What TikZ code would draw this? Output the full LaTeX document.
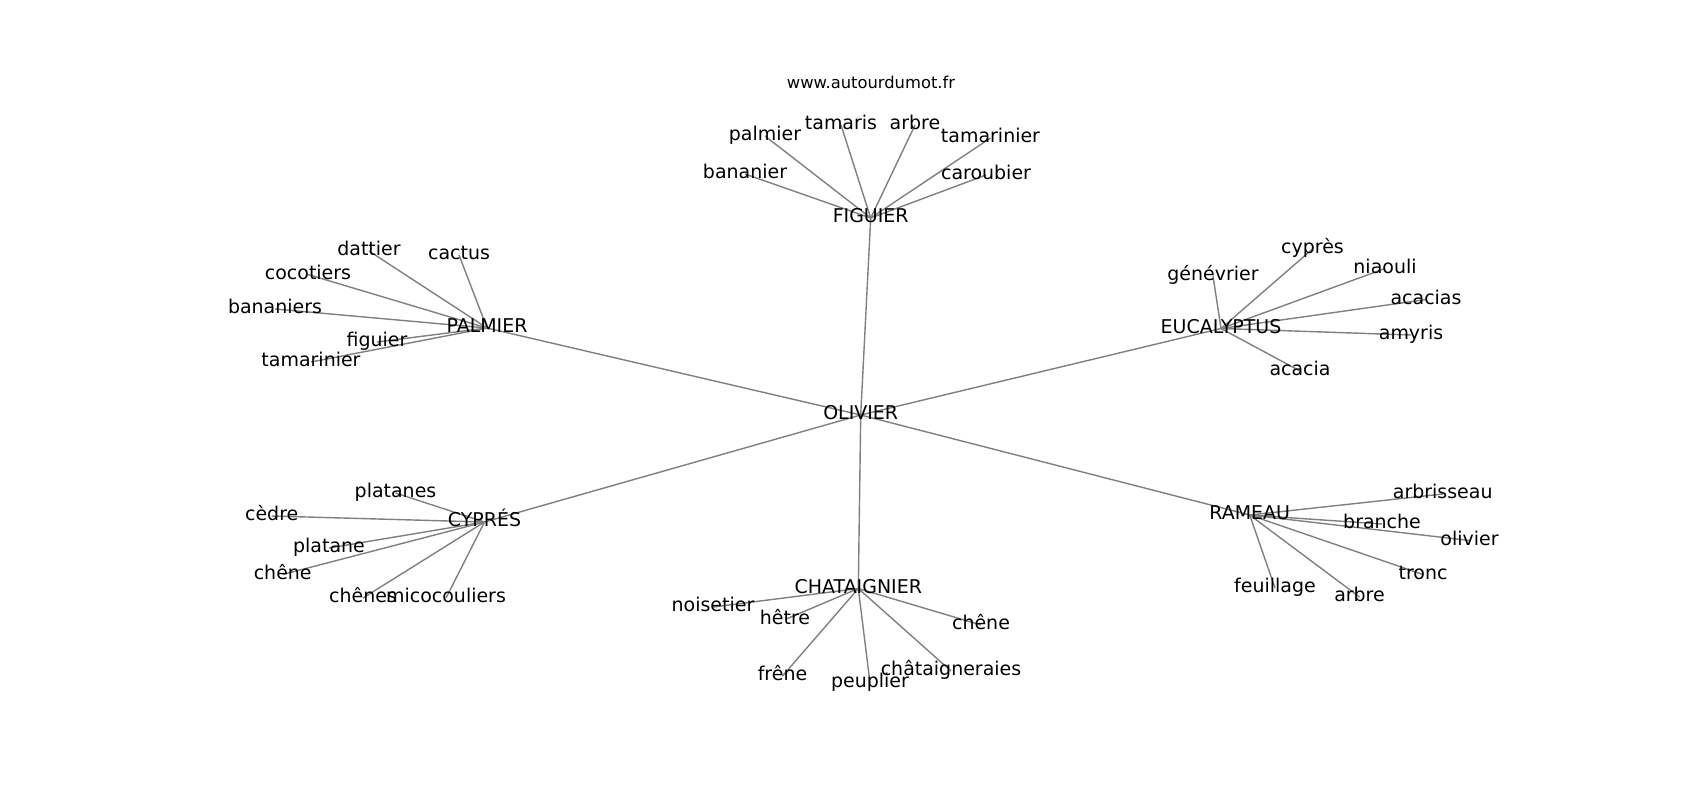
\documentclass[tikz,border=0pt]{standalone}
\usepackage{fontspec}
\setmainfont{DejaVu Sans}
\pgfdeclarelayer{background}
\pgfsetlayers{background,main}
\tikzset{
  word/.style={inner sep=0pt, text height=8.2pt, text depth=2.6pt, font=\fontsize{10.8}{13}\selectfont},
  link/.style={draw=gray, line width=0.8pt}
}

\begin{document}
\begin{tikzpicture}[x=0.2mm, y=-0.2mm]
    \useasboundingbox (0,0) rectangle (1700,800);

    % Title
    \node[inner sep=0pt, text height=7.1pt, text depth=2.2pt, font=\fontsize{9.3}{11}\selectfont] (site) at (871,84) {www.autourdumot.fr};

    % Centre and hubs
    \node[word] (olivier) at (860.7,415) {OLIVIER};
    \node[word] (figuier) at (870.7,218) {FIGUIER};
    \node[word] (palmier) at (487,328) {PALMIER};
    \node[word] (eucalyptus) at (1221,328.5) {EUCALYPTUS};
    \node[word] (cypres) at (484.5,522) {CYPRÉS};
    \node[word] (chataignier) at (858.3,588.5) {CHATAIGNIER};
    \node[word] (rameau) at (1249.7,515) {RAMEAU};

    % Around FIGUIER
    \node[word] (figA) at (745,174) {bananier};
    \node[word] (figB) at (765,136) {palmier};
    \node[word] (figC) at (841,125) {tamaris};
    \node[word] (figD) at (915,125) {arbre};
    \node[word] (figE) at (990.5,138) {tamarinier};
    \node[word] (figF) at (986,175) {caroubier};

    % Around PALMIER
    \node[word] (palA) at (369,251) {dattier};
    \node[word] (palB) at (459,255) {cactus};
    \node[word] (palC) at (308,274.5) {cocotiers};
    \node[word] (palD) at (275,309) {bananiers};
    \node[word] (palE) at (377,342) {figuier};
    \node[word] (palF) at (311,362) {tamarinier};

    % Around EUCALYPTUS
    \node[word] (eucA) at (1312.5,249) {cyprès};
    \node[word] (eucB) at (1213,276) {génévrier};
    \node[word] (eucC) at (1385,268.5) {niaouli};
    \node[word] (eucD) at (1426,299.5) {acacias};
    \node[word] (eucE) at (1411,335) {amyris};
    \node[word] (eucF) at (1300,371) {acacia};

    % Around CYPRES
    \node[word] (cypA) at (395.5,493) {platanes};
    \node[word] (cypB) at (271.7,516) {cèdre};
    \node[word] (cypC) at (329,548) {platane};
    \node[word] (cypD) at (282.7,574.5) {chêne};
    \node[word] (cypE) at (363,598) {chênes};
    \node[word] (cypF) at (446,598) {micocouliers};

    % Around CHATAIGNIER
    \node[word] (chaA) at (713,607) {noisetier};
    \node[word] (chaB) at (785,619.5) {hêtre};
    \node[word] (chaC) at (981,625) {chêne};
    \node[word] (chaD) at (782.5,676) {frêne};
    \node[word] (chaE) at (870,683) {peuplier};
    \node[word] (chaF) at (951,671) {châtaigneraies};

    % Around RAMEAU
    \node[word] (ramA) at (1442.7,494) {arbrisseau};
    \node[word] (ramB) at (1382,524) {branche};
    \node[word] (ramC) at (1469.5,540.5) {olivier};
    \node[word] (ramD) at (1423,574.5) {tronc};
    \node[word] (ramE) at (1275,588) {feuillage};
    \node[word] (ramF) at (1359.5,597) {arbre};

    % Links, behind the words
    \begin{pgfonlayer}{background}
        \foreach \hub in {figuier, palmier, eucalyptus, cypres, chataignier, rameau}
            \draw[link] (olivier.center) -- (\hub.center);
        \foreach \hub/\pre in {figuier/fig, palmier/pal, eucalyptus/euc, cypres/cyp, chataignier/cha, rameau/ram}
            \foreach \leaf in {A,B,C,D,E,F}
                \draw[link] (\hub.center) -- (\pre\leaf.center);
    \end{pgfonlayer}
\end{tikzpicture}
\end{document}
